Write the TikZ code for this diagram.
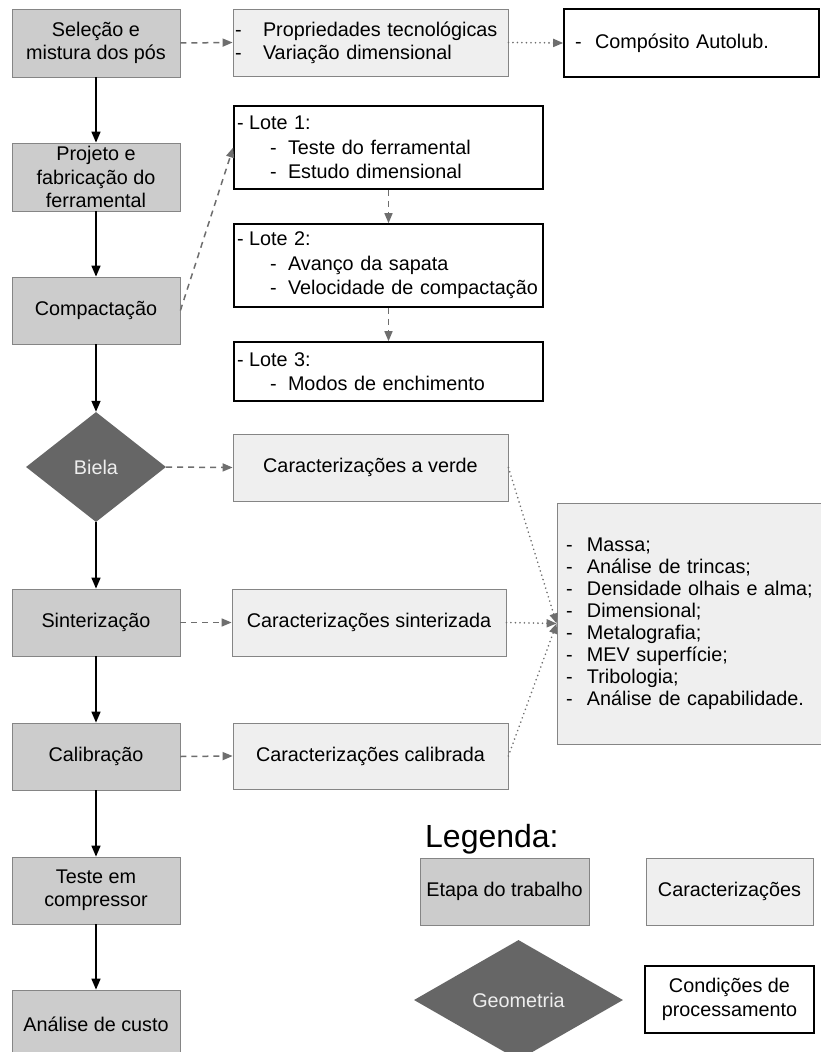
\documentclass[tikz,border=0pt]{standalone}
\usepackage{fontspec}
\setmainfont{Liberation Sans}
\usetikzlibrary{arrows.meta,shapes.geometric}
\definecolor{stepfill}{HTML}{CCCCCC}
\definecolor{carfill}{HTML}{EFEFEF}
\definecolor{geofill}{HTML}{666666}
\definecolor{textlight}{HTML}{EEEEEE}
\definecolor{edgegray}{HTML}{858585}
\definecolor{linkgray}{HTML}{6E6E6E}
\newcommand{\fsz}{\fontsize{19.8pt}{23.3pt}\selectfont}
\newcommand{\fszlote}{\fontsize{19.8pt}{24.5pt}\selectfont}
\newcommand{\fszlist}{\fontsize{19.8pt}{22pt}\selectfont}
\newcommand{\dsh}[1]{\makebox[#1][l]{-}}
\begin{document}
\begin{tikzpicture}[x=1pt,y=-1pt,
  stepbox/.style={rectangle, draw=edgegray, line width=0.8pt, fill=stepfill, minimum width=168pt, minimum height=67pt, align=center, font=\fsz, inner sep=0pt},
  carbox/.style={rectangle, draw=edgegray, line width=0.8pt, fill=carfill, minimum height=67pt, font=\fsz, inner sep=0pt},
  condbox/.style={rectangle, draw=black, line width=1.6pt, fill=white, font=\fsz, inner sep=0pt},
  geo/.style={diamond, fill=geofill, text=textlight, font=\fsz, inner sep=0pt},
  flow/.style={line width=1.6pt, black, -{Triangle[length=11pt,width=9pt]}},
  dashlink/.style={line width=1.5pt, linkgray, dash pattern=on 6pt off 5pt, -{Triangle[length=10pt,width=8pt]}},
  dotlink/.style={line width=1.8pt, linkgray, line cap=round, dash pattern=on 0.01pt off 4.5pt, -{Triangle[length=10pt,width=8pt]}},
]
\useasboundingbox (0,0) rectangle (821,1052);
\fill[white] (0,0) rectangle (821,1052);

% left column: work steps
\node[stepbox, minimum height=68pt] (sel) at (96,43) {Seleção e\\mistura dos pós};
\node[stepbox, minimum height=68pt] (proj) at (96,177) {Projeto e\\fabricação do\\ferramental};
\node[stepbox] (comp) at (96,310.5) {Compactação};
\node[geo, minimum width=140pt, minimum height=110pt] (biela) at (96,467) {Biela};
\node[stepbox] (sint) at (96,622.5) {Sinterização};
\node[stepbox] (cal) at (96,756.5) {Calibração};
\node[stepbox] (teste) at (96,890.5) {Teste em\\compressor};
\node[stepbox, minimum height=68pt] (custo) at (96,1024) {Análise de custo};

% top row
\node[carbox, minimum width=275pt, text width=271pt, inner xsep=2pt, align=left] (prop) at (370.5,42.5)
  {\dsh{28pt}Propriedades tecnológicas\\\dsh{28pt}Variação dimensional};
\node[condbox, minimum width=255pt, minimum height=68pt, text width=233pt, inner xsep=11pt, align=left] (autol) at (691.5,43)
  {\dsh{20pt}Compósito Autolub.};

% lotes
\node[condbox, minimum height=83pt, text width=303pt, inner xsep=3pt, align=left, font=\fszlote] (lote1) at (388.5,147.5)
  {\dsh{12pt}Lote 1:\\\hspace*{33pt}\dsh{18pt}Teste do ferramental\\\hspace*{33pt}\dsh{18pt}Estudo dimensional};
\node[condbox, minimum height=83pt, text width=303pt, inner xsep=3pt, align=left, font=\fszlote] (lote2) at (388.5,265.5)
  {\dsh{12pt}Lote 2:\\\hspace*{33pt}\dsh{18pt}Avanço da sapata\\\hspace*{33pt}\dsh{18pt}Velocidade de compactação};
\node[condbox, minimum height=59pt, text width=303pt, inner xsep=3pt, align=left, font=\fszlote] (lote3) at (388.5,371.5)
  {\dsh{12pt}Lote 3:\\\hspace*{33pt}\dsh{18pt}Modos de enchimento};

% characterizations
\node[carbox, minimum width=275pt] (verde) at (370.5,467.5) {Caracterizações a verde};
\node[carbox, minimum width=274pt] (sinter) at (369,622.5) {Caracterizações sinterizada};
\node[carbox, minimum width=275pt, minimum height=66pt] (calib) at (370.5,756) {Caracterizações calibrada};
\node[carbox, minimum width=268pt, minimum height=241pt, text width=250pt, inner xsep=9pt, align=left, font=\fszlist] (lista) at (691,623.5)
  {\dsh{21pt}Massa;\\\dsh{21pt}Análise de trincas;\\\dsh{21pt}Densidade olhais e alma;\\\dsh{21pt}Dimensional;\\\dsh{21pt}Metalografia;\\\dsh{21pt}MEV superfície;\\\dsh{21pt}Tribologia;\\\dsh{21pt}Análise de capabilidade.};

% legend
\node[anchor=base west, inner sep=0pt, font=\fontsize{32pt}{37pt}\selectfont] (legtitle) at (425,847) {Legenda:};
\node[stepbox, minimum width=169pt] (legstep) at (504.5,891.5) {Etapa do trabalho};
\node[carbox, minimum width=167pt] (legcar) at (729.5,891.5) {Caracterizações};
\node[geo, minimum width=209pt, minimum height=120pt] (leggeo) at (518.5,1000) {Geometria};
\node[condbox, minimum width=169pt, minimum height=67pt, align=center] (legcond) at (729.5,999.5) {Condições de\\processamento};

% main flow
\draw[flow] (sel) -- (proj);
\draw[flow] (proj) -- (comp);
\draw[flow] (comp) -- (biela);
\draw[flow] (biela) -- (sint);
\draw[flow] (sint) -- (cal);
\draw[flow] (cal) -- (teste);
\draw[flow] (teste) -- (custo);

% dashed links
\draw[dashlink] (sel.east) -- (prop.west);
\draw[dashlink] (comp.east) -- (lote1.west);
\draw[dashlink] (lote1.south) -- (lote2.north);
\draw[dashlink] (lote2.south) -- (lote3.north);
\draw[dashlink] (biela.east) -- (verde.west);
\draw[dashlink] (sint.east) -- (sinter.west);
\draw[dashlink] (cal.east) -- (calib.west);

% dotted links
\draw[dotlink] (prop.east) -- (autol.west);
\draw[dotlink] (verde.east) -- (lista.west);
\draw[dotlink] (sinter.east) -- (lista.west);
\draw[dotlink] (calib.east) -- (lista.west);
\end{tikzpicture}
\end{document}
